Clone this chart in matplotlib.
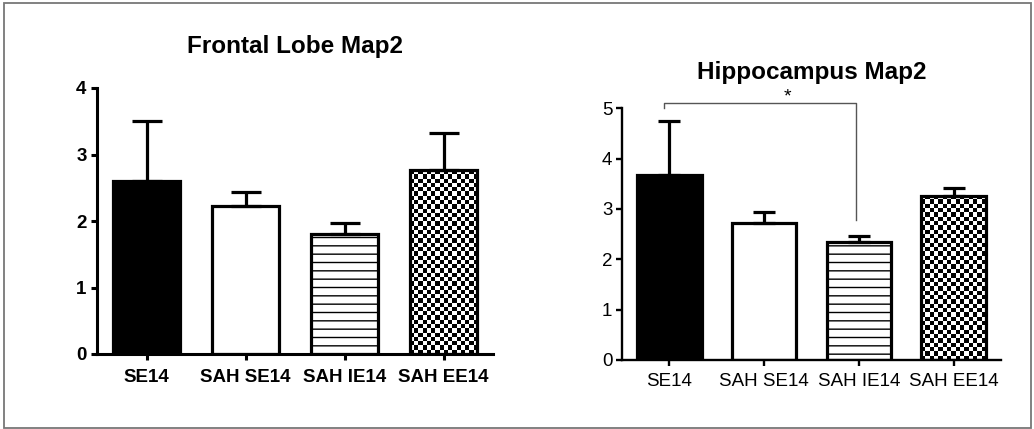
import numpy as np
import matplotlib
matplotlib.use('Agg')
import matplotlib.pyplot as plt
from matplotlib.patches import Rectangle

plt.rcParams['font.family'] = ['Liberation Sans', 'DejaVu Sans']
plt.rcParams['hatch.linewidth'] = 1.0

# data (mean, upper error)
groups = ['SE14', 'SAH SE14', 'SAH IE14', 'SAH EE14']
frontal_mean = [2.60, 2.23, 1.80, 2.76]
frontal_err = [0.91, 0.21, 0.17, 0.56]
hippo_mean = [3.68, 2.72, 2.34, 3.26]
hippo_err = [1.06, 0.22, 0.13, 0.15]
sig_pair = (0, 2)   # SE14 vs SAH IE14
sig_label = '*'

W, H = 1034, 429
fig = plt.figure(figsize=(W / 100, H / 100), dpi=100)


def checker(ax, bar, cell_px=4.3):
    # checkerboard fill clipped to a bar
    x0, y0 = bar.get_x(), bar.get_y()
    w, h = bar.get_width(), bar.get_height()
    p0 = ax.transData.transform((x0, y0))
    p1 = ax.transData.transform((x0 + w, y0 + h))
    nx = max(1, int(round((p1[0] - p0[0]) / cell_px)))
    ny = max(1, int(round((p1[1] - p0[1]) / cell_px)))
    img = np.add.outer(np.arange(ny), np.arange(nx)) % 2
    im = ax.imshow(img, cmap='gray', extent=(x0, x0 + w, y0, y0 + h), origin='lower',
                   aspect='auto', interpolation='nearest', zorder=0.9)
    im.set_clip_path(bar)


def panel(rect, means, errs, ymax, title, title_y, bold, lw, capsize, ticklen, pad):
    ax = fig.add_axes(rect)
    x = np.arange(len(groups))
    ax.set_xlim(-0.5, 3.5)
    ax.set_ylim(0, ymax)
    bars = ax.bar(x, means, width=0.68, facecolor='none', edgecolor='black',
                  linewidth=2.3, zorder=1)
    bars[0].set_facecolor('black')
    bars[2].set_hatch('--')
    checker(ax, bars[3])
    ax.errorbar(x, means, yerr=[np.zeros(len(x)), errs], fmt='none', ecolor='black',
                elinewidth=2.3, capsize=capsize, capthick=2.3, zorder=2)
    ax.set_xlim(-0.5, 3.5)
    ax.set_ylim(0, ymax)
    ax.set_xticks(x)
    weight = 'bold' if bold else 'normal'
    ax.set_xticklabels(groups, fontsize=13.5, fontweight=weight)
    ax.set_yticks(range(0, ymax + 1))
    ax.set_yticklabels([str(v) for v in range(0, ymax + 1)], fontsize=13.5, fontweight=weight)
    for s in ['top', 'right']:
        ax.spines[s].set_visible(False)
    for s in ['left', 'bottom']:
        ax.spines[s].set_linewidth(lw)
    ax.tick_params(axis='x', length=ticklen, width=lw, pad=pad)
    ax.tick_params(axis='y', length=ticklen, width=lw, pad=3)
    fig.text(rect[0] + rect[2] / 2, title_y, title, ha='center', va='center',
             fontsize=17.5, fontweight='bold')
    return ax


ax1 = panel([97 / W, 75 / H, 396 / W, 266 / H], frontal_mean, frontal_err, 4,
            'Frontal Lobe Map2', 1 - 47 / H, True, 2.2, 11, 4.5, 6)
ax2 = panel([622 / W, 69 / H, 379 / W, 251.7 / H], hippo_mean, hippo_err, 5,
            'Hippocampus Map2', 1 - 72 / H, False, 1.7, 8, 4, 5)

# significance bracket
a, b = sig_pair
top = 5.10
ax2.plot([a - 0.06, a - 0.06, b - 0.03, b - 0.03],
         [top - 0.09, top, top, hippo_mean[b] + hippo_err[b] + 0.31],
         color='#555555', lw=1.0, clip_on=False, zorder=3)
ax2.text(1.25, top - 0.05, sig_label, ha='center', va='bottom', fontsize=14)

# outer frame
fig.add_artist(Rectangle((4 / W, 1 / H), 1027 / W, 425 / H, transform=fig.transFigure,
                         fill=False, edgecolor='#777777', lw=1.3))

fig.savefig('out.png', dpi=100)
